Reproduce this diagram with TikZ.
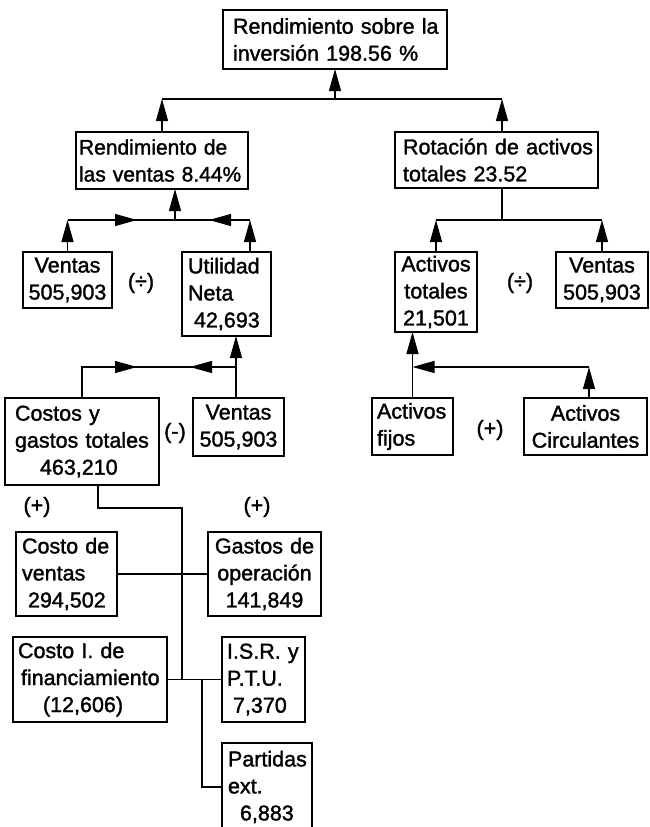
\documentclass[tikz,border=0pt]{standalone}
\usepackage{fontspec}
\setmainfont[FakeBold=1.5]{Liberation Sans}
\usetikzlibrary{arrows.meta}
\newcommand{\ind}[1]{\hspace*{#1pt}}
\begin{document}
\begin{tikzpicture}[x=1pt,y=-1pt,line width=1.1pt,
  box/.style={draw,outer sep=0pt,inner ysep=0pt,inner xsep=2pt,font={\fontsize{21.5}{27}\selectfont}},
  lbl/.style={inner sep=0pt,font={\fontsize{21.5}{27}\selectfont}},
  arr/.style={-{Triangle[length=22pt,width=12pt]}}]
\useasboundingbox (0,0) rectangle (649,827);
% boxes
\node[box,align=left,text width=220pt,minimum height=59pt] (A) at (335,39.5) {\ind{8}Rendimiento sobre la\\\ind{8}inversión 198.56 \%};
\node[box,align=left,text width=168pt,minimum height=57pt,font={\fontsize{21}{27}\selectfont}] (B) at (162,160.5) {\mbox{\ind{1}Rendimiento de}\\\mbox{\ind{1}las ventas 8.44\%}};
\node[box,align=left,text width=199pt,minimum height=56pt] (C) at (496.5,160) {\ind{6}Rotación de activos\\\ind{6}totales 23.52};
\node[box,align=center,text width=78pt,minimum height=80pt] (D) at (436,292) {Activos\\totales\\21,501};
\node[box,align=center,text width=88pt,minimum height=56pt] (E) at (602,280) {Ventas\\505,903};
\node[box,align=center,text width=85pt,minimum height=56pt] (H) at (67.5,280) {Ventas\\505,903};
\node[box,align=left,text width=85pt,minimum height=84pt] (I) at (226.5,294) {\ind{4}Utilidad\\\ind{4}Neta\\\ind{10}42,693};
\node[box,align=left,text width=150pt,minimum height=87pt] (K) at (82,441.5) {\ind{8}Costos y\\\ind{8}gastos totales\\\ind{33}463,210};
\node[box,align=center,text width=87pt,minimum height=58pt] (J) at (238.5,427) {Ventas\\505,903};
\node[box,align=left,text width=77pt,minimum height=57pt] (F) at (412.5,426.5) {\ind{3}Activos\\\ind{3}fijos};
\node[box,align=center,text width=119pt,minimum height=57pt] (G) at (585.5,426.5) {Activos\\Circulantes};
\node[box,align=left,text width=97pt,minimum height=84pt] (L) at (66.5,574) {\ind{4}Costo de\\\ind{4}ventas\\\ind{10}294,502};
\node[box,align=center,text width=109pt,minimum height=84pt] (M) at (264.5,574) {Gastos de\\operación\\141,849};
\node[box,align=left,text width=150pt,minimum height=85pt] (N) at (90,679.5) {\ind{3}Costo I. de\\\ind{6}financiamiento\\\ind{28}(12,606)};
\node[box,align=left,text width=79pt,minimum height=85pt] (O) at (263.5,679.5) {\ind{3}I.S.R. y\\\ind{3}P.T.U.\\\ind{9}7,370};
\node[box,align=left,text width=86pt,minimum height=88pt] (P) at (267,787) {\ind{4}Partidas\\\ind{4}ext.\\\ind{16}6,883};
% labels
\node[lbl] (d1) at (141,283) {(÷)};
\node[lbl] (d2) at (520,283) {(÷)};
\node[lbl] (m1) at (175,433) {(-)};
\node[lbl] (p2) at (490,430) {(+)};
\node[lbl] (p3) at (37,507) {(+)};
\node[lbl] (p4) at (257,507) {(+)};
% level 1
\coordinate (jA) at (335,99);
\coordinate (jL) at (162,99);
\coordinate (jR) at (502,99);
\draw (jL) -- (jR);
\draw[arr] (jA) -- (A.south);
\draw[arr] (B.north) -- (jL);
\draw[arr] (C.north -| jR) -- (jR);
% level 2 right
\coordinate (jC) at (502,220);
\coordinate (jD) at (436,220);
\coordinate (jE) at (602,220);
\draw (C.south -| jC) -- (jC);
\draw (jD) -- (jE);
\draw[arr] (D.north) -- (jD);
\draw[arr] (E.north) -- (jE);
% level 3 right
\coordinate (jF) at (412.5,367);
\coordinate (jG) at (589,367);
\draw[arr] (F.north) -- (F.north |- D.south);
\draw[arr] (jG) -- (jF);
\draw[arr] (G.north -| jG) -- (jG);
% level 2 left
\coordinate (jB) at (175,220);
\coordinate (jH) at (67.5,220);
\coordinate (jI) at (250,220);
\coordinate (tB1) at (137,220);
\coordinate (tB2) at (209,220);
\draw (jH) -- (jI);
\draw[arr] (jH) -- (tB1);
\draw[arr] (jI) -- (tB2);
\draw[arr] (jB) -- (jB |- B.south);
\draw[arr] (H.north) -- (jH);
\draw[arr] (I.north -| jI) -- (jI);
% level 3 left
\coordinate (jK) at (82,367);
\coordinate (jJ) at (236,367);
\coordinate (tK1) at (137,367);
\coordinate (tK2) at (190,367);
\draw (K.north) -- (jK) -- (jJ);
\draw[arr] (jK) -- (tK1);
\draw[arr] (jJ) -- (tK2);
\draw[arr] (J.north -| jJ) -- (jJ |- I.south);
% lower part
\coordinate (k1) at (98,508);
\coordinate (k2) at (182,508);
\coordinate (pp) at (202,679.5);
\draw (K.south -| k1) -- (k1) -- (k2) -- (k2 |- N.east);
\draw (L.east) -- (M.west);
\draw (N.east) -- (O.west);
\draw (pp) |- (P.west);
\end{tikzpicture}
\end{document}
